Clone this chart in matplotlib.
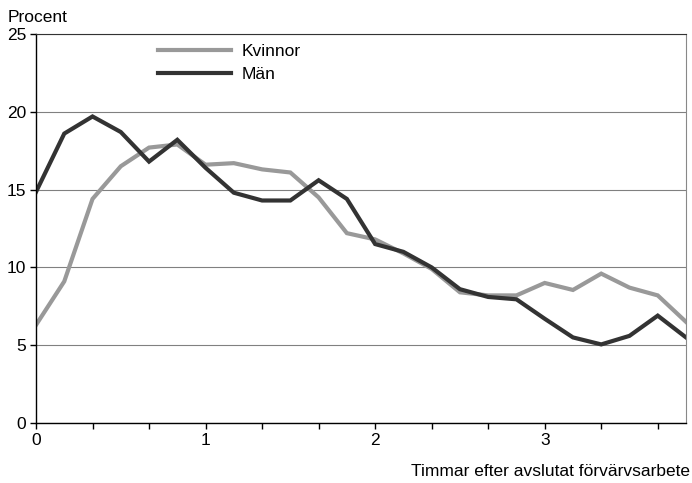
import matplotlib
matplotlib.use("Agg")
import matplotlib.pyplot as plt
import numpy as np

plt.rcParams["font.family"] = ["Liberation Sans", "DejaVu Sans"]

# hours after finished paid work, 10-minute steps
hours = np.arange(24) / 6
kvinnor = [6.3, 9.1, 14.4, 16.5, 17.7, 17.9, 16.6, 16.7, 16.3, 16.1, 14.5, 12.2,
           11.8, 10.9, 9.9, 8.4, 8.2, 8.2, 9.0, 8.55, 9.6, 8.7, 8.2, 6.5]
man = [14.85, 18.6, 19.7, 18.7, 16.8, 18.2, 16.4, 14.8, 14.3, 14.3, 15.6, 14.4,
       11.5, 11.0, 10.0, 8.6, 8.1, 7.95, 6.7, 5.5, 5.05, 5.6, 6.9, 5.5]
yticks = [0, 5, 10, 15, 20, 25]

fs = 12.5
fig = plt.figure(figsize=(6.92, 4.83), dpi=100)
ax = fig.add_axes([36 / 692, 1 - 423 / 483, 650 / 692, 389 / 483])

ax.plot(hours, kvinnor, color="#999999", lw=3, label="Kvinnor", solid_joinstyle="miter")
ax.plot(hours, man, color="#333333", lw=3, label="Män", solid_joinstyle="miter")

ax.set_xlim(0, hours[-1])
ax.set_ylim(0, 25)
ax.set_yticks(yticks)
xt = np.arange(12) / 3
ax.set_xticks(xt)
ax.set_xticklabels([str(int(round(v))) if abs(v - round(v)) < 1e-6 else "" for v in xt])
ax.tick_params(axis="both", direction="out", length=4, width=1, labelsize=fs, colors="black", pad=3)
ax.grid(axis="y", color="#808080", lw=0.8)
ax.set_axisbelow(True)
for s in ["left", "bottom"]:
    ax.spines[s].set_color("black")
    ax.spines[s].set_linewidth(1)
ax.spines["top"].set_color("#333333")
ax.spines["right"].set_color("#888888")

ax.legend(loc="upper left", bbox_to_anchor=(0.1635, 1.014), frameon=False, fontsize=fs,
          handlelength=4.2, handletextpad=0.6, labelspacing=0.45)

fig.text(8 / 692, 1 - 18 / 483, "Procent", fontsize=fs, va="center", ha="left")
fig.text(690 / 692, 1 - 472 / 483, "Timmar efter avslutat förvärvsarbete", fontsize=fs,
         va="center", ha="right")

fig.savefig("out.png", dpi=100)
